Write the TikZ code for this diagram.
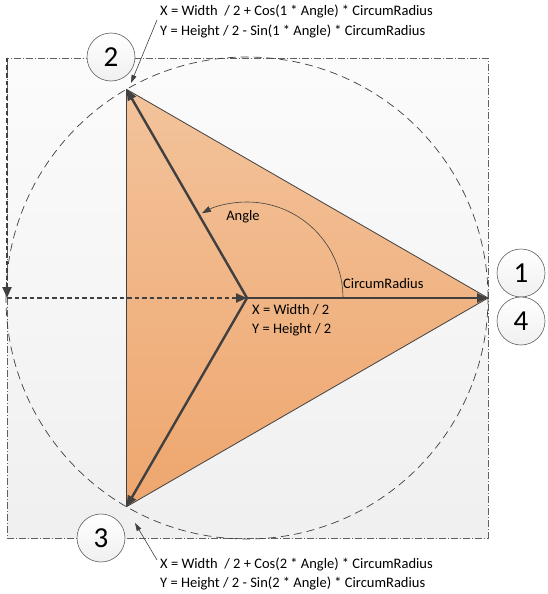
\documentclass[tikz,border=0pt]{standalone}
\usepackage{fontspec}
\setmainfont{Carlito}
\usetikzlibrary{arrows.meta}
\definecolor{dk}{HTML}{404040}
\definecolor{triTop}{HTML}{F3C39B}
\definecolor{triBot}{HTML}{EEA66E}
\definecolor{rimc}{HTML}{606060}
\tikzset{
  lbl/.style={font=\fontsize{14.5}{19.5}\selectfont, text=black, inner sep=0pt, align=left},
  radarrow/.style={draw=dk, line width=2.4pt, -{Triangle[length=11pt,width=9pt]}},
  dotarrow/.style={draw=dk, line width=2.2pt, dash pattern=on 4.5pt off 3pt, -{Triangle[length=11pt,width=9pt]}},
  pointer/.style={draw=dk, line width=0.6pt, -{Triangle[length=8pt,width=5pt]}},
  numcirc/.style={circle, draw=rimc, line width=0.6pt, minimum size=48pt, inner sep=0pt,
    top color=white, bottom color=gray!12, font=\fontsize{29}{29}\selectfont},
}
\begin{document}
\begin{tikzpicture}[x=1pt,y=1pt]
\useasboundingbox (0,0) rectangle (548,-594);
\coordinate (C) at (247,-298);
\coordinate (V1) at (488,-298);
\coordinate (V2) at (126.5,-89.3);
\coordinate (V3) at (126.5,-506.7);
\coordinate (TL) at (7,-58);
\coordinate (L) at (7,-298);
% frame
\path[top color=gray!3, bottom color=gray!12] (7,-58) rectangle (488,-538);
\draw[rimc, line width=0.7pt, dash pattern=on 7pt off 2pt on 1pt off 2pt] (7,-58) rectangle (488,-538);
% triangle
\path[top color=triTop, bottom color=triBot] (V1) -- (V2) -- (V3) -- cycle;
\draw[dk, line width=0.8pt, line join=round] (V1) -- (V2) -- (V3) -- cycle;
% circumcircle
\draw[dk, line width=0.7pt, dash pattern=on 8pt off 5pt] (C) circle[radius=241pt];
% angle arc
\draw[dk, line width=0.6pt, -{Triangle[length=9pt,width=6pt]}] (C) ++(96pt,0) arc[start angle=0, end angle=118, radius=96pt];
% radii
\draw[radarrow] (C) -- (V1);
\draw[radarrow] (C) -- (V2);
\draw[radarrow] (C) -- (V3);
% dotted arrows
\draw[dotarrow] (TL) -- (L);
\draw[dotarrow] (L) -- (C);
% labels
\node[lbl] (angle) at (243,-217) {Angle};
\node[lbl, anchor=west] (circ) at (343,-284) {CircumRadius};
\node[lbl, anchor=north west] (ctr) at (252,-304) {X = Width / 2\\Y = Height / 2};
\node[lbl, anchor=west] (top) at (160,-21.5) {X = Width~~/ 2 + Cos(1 * Angle) * CircumRadius\\Y = Height / 2 - Sin(1 * Angle) * CircumRadius};
\node[lbl, anchor=west] (bot) at (160,-574) {X = Width~~/ 2 + Cos(2 * Angle) * CircumRadius\\Y = Height / 2 - Sin(2 * Angle) * CircumRadius};
\coordinate (p1) at (157,-20);
\coordinate (p1e) at (131,-83);
\coordinate (p3) at (157,-560);
\coordinate (p3e) at (135,-523);
\draw[pointer] (p1) -- (p1e);
\draw[pointer] (p3) -- (p3e);
% number circles
\node[numcirc] (n2) at (111,-57) {2};
\node[numcirc] (n1) at (521,-273) {1};
\node[numcirc] (n4) at (521,-321) {4};
\node[numcirc] (n3) at (101,-538) {3};
\end{tikzpicture}
\end{document}
